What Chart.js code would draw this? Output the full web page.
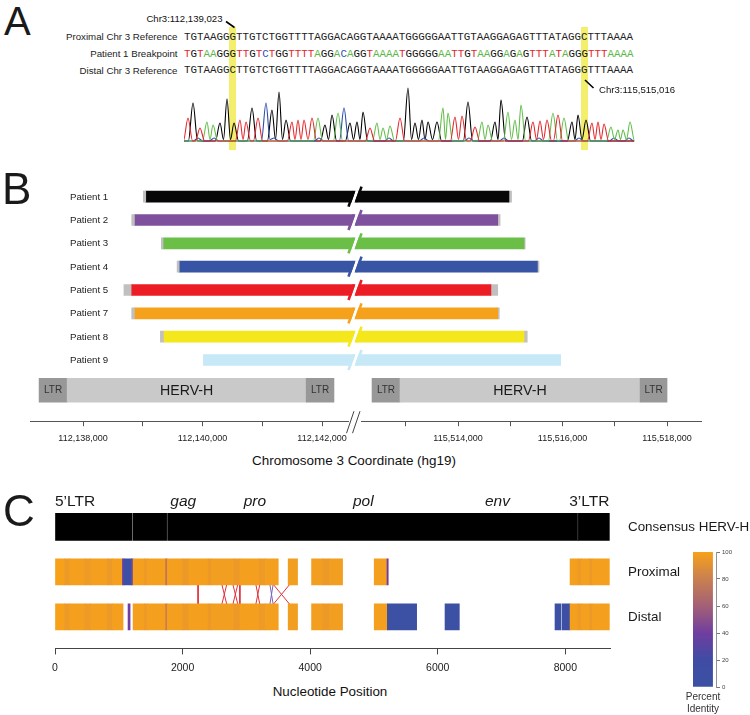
<!DOCTYPE html>
<html>
<head>
<meta charset="utf-8">
<title>HERV-H mediated rearrangement</title>
<script src="https://cdn.jsdelivr.net/npm/chart.js@4.4.1/dist/chart.umd.min.js"></script>
<style>
html,body{margin:0;padding:0;background:#fff;}
#page{position:relative;width:750px;height:715px;overflow:hidden;background:#fff;font-family:'Liberation Sans',Arial,Helvetica,sans-serif;color:#1a1a1a;}
.t{position:absolute;white-space:nowrap;}
#page canvas{position:absolute;}
</style>
</head>
<body>
<div id="page"></div>
<script>
/* ================= DATA ================= */
/* ---- Panel A: breakpoint sequences ---- */
const seqLabels = ['Proximal Chr 3 Reference', 'Patient 1 Breakpoint', 'Distal Chr 3 Reference'];
const seqRows = [
  'TGTAAGGGTTGTCTGGTTTTAGGACAGGTAAAATGGGGGAATTGTAAGGAGAGTTTATAGGCTTTAAAA',
  'TGTAAGGGTTGTCTGGTTTTAGGACAGGTAAAATGGGGGAATTGTAAGGAGAGTTTATAGGGTTTAAAA',
  'TGTAAGGCTTGTCTGGTTTTAGGACAGGTAAAATGGGGGAATTGTAAGGAGAGTTTATAGGGTTTAAAA'
];
const breakpointIndex = [7, 61];
const breakpointLabels = ['Chr3:112,139,023', 'Chr3:115,515,016'];

/* chromatogram peaks: trace position (scan units) and signal height */
const traceTPos = [4,16,56,62,74,108,114,120,128,186,216,271,278,291,349,356,363,374,408,414,420];
const traceTHt  = [23,13,21,19,23,19,21,21,23,13,23,24,25,14,19,20,21,26,18,19,17];
const traceAPos = [23,29,134,154,193,199,206,259,264,298,304,324,331,337,369,380,427,434,439,446];
const traceAHt  = [19,16,23,28,18,13,15,33,28,19,16,29,21,36,28,23,14,11,11,19];
const traceGPos = [9,36,43,50,68,88,95,102,141,148,166,173,179,224,231,238,244,253,284,311,317,343,388,394,402];
const traceGHt  = [38,18,42,18,33,31,49,21,16,26,18,19,29,53,18,21,19,19,39,19,41,24,19,26,21];
const traceCPos = [14,30,82,90,135,160,205,240,285,320,355,395,430,445];
const traceCHt  = [3,3,38,3,3,33,3,3,3,3,3,3,3,3];

/* ---- Panel B: breakpoint intervals (hg19 chr3) ---- */
const patients = ['Patient 1','Patient 2','Patient 3','Patient 4','Patient 5','Patient 7','Patient 8','Patient 9'];
const proximalBoundStart = [112139010,112138815,112139310,112139575,112138685,112138815,112139295,112140015];
const proximalBreak      = [112139050,112138860,112139340,112139610,112138805,112138860,112139345,112140015];
const distalBreak        = [115514975,115514760,115515265,115515520,115514630,115514760,115515265,115515965];
const distalBoundEnd     = [115515025,115514805,115515285,115515550,115514760,115514790,115515325,115515965];
const hervParts    = ['LTR','HERV-H','LTR'];
const hervProximal = [112137265,112137735,112141735,112142200];
const hervDistal   = [115512355,115512890,115517485,115518000];
const leftAxisRange  = [112137113, 112142552];
const rightAxisRange = [115512029, 115518650];
const leftTicks  = [112138000,112139000,112140000,112141000,112142000];
const leftTickLabels  = ['112,138,000','','112,140,000','','112,142,000'];
const rightTicks = [115513000,115514000,115515000,115516000,115517000,115518000];
const rightTickLabels = ['','115,514,000','','115,516,000','','115,518,000'];

/* ---- Panel C: percent identity to consensus HERV-H ---- */
const rowLabels = ['Consensus HERV-H','Proximal','Distal'];
const geneLabels = ['5\u2019LTR','gag','pro','pol','env','3\u2019LTR'];
const genePositions = [0, 2010, 3133, 4833, 6936, 8690];
const consStart = [0, 1222, 1765, 8190, 8206];
const consEnd   = [1207, 1750, 8190, 8206, 8690];
const proxStart = [0,150,230,470,560,820,900,1057,1085,1200,1224,1400,1450,1735,1760,2000,2100,2400,2450,2800,2900,3200,3300,3655,4022,4200,4300,5004,5204,8074,8200,8250,8380,8420];
const proxEnd   = [150,230,470,560,820,900,1057,1085,1200,1224,1400,1450,1735,1760,2000,2100,2400,2450,2800,2900,3200,3300,3500,3802,4200,4300,4508,5204,5224,8200,8250,8380,8420,8690];
const proxIdentity = [100,96,99,96,99,95,99,35,8,35,99,96,99,72,99,95,99,95,98,95,99,96,99,98,98,95,98,99,40,99,96,99,95,99];
const distStart = [0,150,230,470,560,820,900,1145,1224,1400,1450,1735,1760,2000,2100,2400,2450,2800,2900,3200,3300,3655,4022,4200,4300,5004,5210,6114,7838,7950,8074,8200,8250,8380,8420];
const distEnd   = [150,230,470,560,820,900,1067,1177,1400,1450,1735,1760,2000,2100,2400,2450,2800,2900,3200,3300,3500,3802,4200,4300,4508,5210,5669,6338,7932,8074,8200,8250,8380,8420,8690];
const distIdentity = [100,96,99,96,99,95,99,40,99,96,99,78,99,95,99,95,98,95,99,96,99,98,98,95,98,99,5,5,5,8,99,96,99,95,99];
const linkProximal = [2243,2615,2693,2788,2866,2898,3148,3211,3368,3420,3420,3681];
const linkDistal   = [2243,2693,2615,2866,2788,2898,3211,3148,3420,3368,3681,3420];
const nucTicks = [0,2000,4000,6000,8000];
const nucTickLabels = ['0','2000','4000','6000','8000'];
const identityTicks = [0,20,40,60,80,100];

/* ================= STYLES ================= */
const FONT = "'Liberation Sans', Arial, Helvetica, sans-serif";
const MONO = "'Liberation Mono', 'Courier New', monospace";
const baseColors = {A:'#5cb848', C:'#2f4fb5', G:'#111111', T:'#e3262b'};
const patientColors = ['#070707','#7e509e','#6bbf47','#3854a4','#ec1d25','#f6a11c','#f4e81c','#c6e8f7'];
const boundColor = '#c0c0c0';
const hervColors = ['#989898','#c9c9c9','#989898'];
const consColors = ['#000000','#000000','#000000','#2c2c2c','#000000'];
const linkColors = ['#e0303a','#e0303a','#e0303a','#e0303a','#e0303a','#e0303a','#e0303a','#e0303a','#7a63b8','#7a63b8','#e0303a','#e0303a'];
const stopColors = [[59,81,164],[63,76,163],[112,62,160],[163,96,118],[201,128,80],[247,161,27]];

Chart.defaults.font.family = FONT;
Chart.defaults.color = '#222';

/* ================= HELPERS ================= */
const page = document.getElementById('page');
function addText(txt, x, cy, size, opts = {}) {
  const d = document.createElement('div');
  d.className = 't';
  d.textContent = txt;
  d.style.fontSize = size + 'px';
  d.style.lineHeight = size + 'px';
  d.style.height = size + 'px';
  d.style.top = (cy - size / 2) + 'px';
  const align = opts.align || 'left';
  if (align === 'left') d.style.left = x + 'px';
  else if (align === 'right') d.style.right = (750 - x) + 'px';
  else { d.style.left = x + 'px'; d.style.transform = 'translateX(-50%)'; }
  if (opts.italic) d.style.fontStyle = 'italic';
  if (opts.color) d.style.color = opts.color;
  if (opts.font) d.style.fontFamily = opts.font;
  d.style.zIndex = opts.z || 5;
  page.appendChild(d);
  return d;
}
function addCanvas(left, top, w, h, z) {
  const c = document.createElement('canvas');
  c.width = w; c.height = h;
  c.style.left = left + 'px'; c.style.top = top + 'px';
  c.style.width = w + 'px'; c.style.height = h + 'px';
  c.style.zIndex = z || 1;
  page.appendChild(c);
  return c;
}
function baseOpts() {
  return {responsive:false, animation:false, devicePixelRatio:1, events:[],
    plugins:{legend:{display:false}, tooltip:{enabled:false}}};
}
function identityColor(v) {
  const idx = Math.min(identityTicks.length - 2, Math.floor(v / 20));
  const f = (v - identityTicks[idx]) / 20;
  const a = stopColors[idx], b = stopColors[idx + 1];
  return 'rgb(' + a.map((c, k) => Math.round(c + (b[k] - c) * f)).join(',') + ')';
}
/* peak list -> trace: each peak rises from the baseline and falls back to it;
   neighbouring peaks of the same base share one shallow valley */
function tracePoints(pos, ht) {
  const HW = 4.6;
  const pts = [{x:0, y:0}];
  for (let i = 0; i < pos.length; i++) {
    const p = pos[i];
    const prev = i > 0 ? pos[i-1] : -Infinity;
    if (p - prev >= 2 * HW) pts.push({x:p - HW, y:0});
    else pts.push({x:(p + prev) / 2, y:1.5});
    pts.push({x:p, y:ht[i]});
    const next = i < pos.length - 1 ? pos[i+1] : Infinity;
    if (next - p >= 2 * HW) pts.push({x:p + HW, y:0});
  }
  pts.push({x:450, y:0});
  return pts;
}

/* ================= PANEL A ================= */
addText('A', 4, 21, 40);
const SEQ_LEFT = 184, SEQ_SIZE = 10.85;
const mctx = document.createElement('canvas').getContext('2d');
mctx.font = SEQ_SIZE + 'px ' + MONO;
const charW = mctx.measureText('A').width;
const rowCY = [37.3, 54, 70.7];

breakpointIndex.forEach(k => {
  const h = document.createElement('div');
  h.style.cssText = 'position:absolute;background:#f3ee6b;z-index:0;';
  h.style.left = (SEQ_LEFT + k * charW - 0.4) + 'px';
  h.style.width = (charW + 0.8) + 'px';
  h.style.top = '27px'; h.style.height = '123px';
  page.appendChild(h);
});
seqLabels.forEach((lab, r) => {
  addText(lab, 177.5, rowCY[r], 9.7, {align:'right', color:'#222'});
  const d = addText('', SEQ_LEFT, rowCY[r], SEQ_SIZE, {font:MONO, color:'#222'});
  if (r === 1) {
    for (const ch of seqRows[r]) {
      const s = document.createElement('span');
      s.textContent = ch; s.style.color = baseColors[ch];
      d.appendChild(s);
    }
  } else d.textContent = seqRows[r];
});
addText(breakpointLabels[0], 222.5, 18.3, 9.6, {align:'right', color:'#111'});
addText(breakpointLabels[1], 599, 90, 9.6, {color:'#111'});
const svgNS = 'http://www.w3.org/2000/svg';
const svg = document.createElementNS(svgNS, 'svg');
svg.setAttribute('width', 750); svg.setAttribute('height', 160);
svg.style.cssText = 'position:absolute;left:0;top:0;z-index:6;';
[[226,21.5,234.5,27.5],[585,80,593.5,88]].forEach(l => {
  const ln = document.createElementNS(svgNS, 'line');
  ln.setAttribute('x1', l[0]); ln.setAttribute('y1', l[1]);
  ln.setAttribute('x2', l[2]); ln.setAttribute('y2', l[3]);
  ln.setAttribute('stroke', '#000'); ln.setAttribute('stroke-width', 1.6);
  svg.appendChild(ln);
});
page.appendChild(svg);

const chromCanvas = addCanvas(184, 80, 452, 63, 3);
new Chart(chromCanvas, {
  type:'line',
  data:{datasets:[
    {label:'T', data:tracePoints(traceTPos, traceTHt), borderColor:baseColors.T},
    {label:'A', data:tracePoints(traceAPos, traceAHt), borderColor:'#62bd4a'},
    {label:'C', data:tracePoints(traceCPos, traceCHt), borderColor:'#2c4da8'},
    {label:'G', data:tracePoints(traceGPos, traceGHt), borderColor:'#000'}
  ]},
  options:Object.assign(baseOpts(), {
    layout:{padding:0},
    datasets:{line:{clip:false}},
    elements:{point:{radius:0}, line:{borderWidth:1.1, cubicInterpolationMode:'monotone', fill:false}},
    scales:{x:{type:'linear', min:0, max:452, display:false}, y:{type:'linear', min:-2, max:61, display:false}}
  })
});

/* ================= PANEL B ================= */
addText('B', 2, 189, 44);
const HERV_ROW = 8.3;
const B_TOP = 180, B_H = 271;
function bScales(range, ticks, labels) {
  return {
    x:{type:'linear', min:range[0], max:range[1], offset:false,
       afterBuildTicks:s => { s.ticks = ticks.map(v => ({value:v})); },
       grid:{drawOnChartArea:false, drawTicks:true, tickLength:5, color:'#555', offset:false},
       border:{display:true, color:'#555', width:1},
       ticks:{font:{size:9}, color:'#222', padding:7, autoSkip:false, maxRotation:0,
              callback:v => labels[ticks.indexOf(v)] ?? ''}},
    y:{type:'linear', min:-0.5, max:9.625, reverse:true, display:false, offset:false}
  };
}
const barDefaults = {bar:{grouped:false, borderWidth:0}};

const leftCanvas = addCanvas(0, B_TOP, 360, B_H, 1);
const leftChart = new Chart(leftCanvas, {
  type:'bar',
  data:{datasets:[
    {data:patients.map((p,i) => proximalBreak[i] > proximalBoundStart[i] ? {x:[proximalBoundStart[i], proximalBreak[i]], y:i} : null).filter(Boolean),
     backgroundColor:boundColor, barThickness:11},
    {data:patients.map((p,i) => ({x:[proximalBreak[i], leftAxisRange[1]], y:i})),
     backgroundColor:patientColors, barThickness:11},
    {data:hervParts.map((p,k) => ({x:[hervProximal[k], hervProximal[k+1]], y:HERV_ROW})),
     backgroundColor:hervColors, barThickness:24}
  ]},
  options:Object.assign(baseOpts(), {
    indexAxis:'y', datasets:barDefaults,
    layout:{padding:{left:30, right:5, top:5, bottom:0}},
    scales:bScales(leftAxisRange, leftTicks, leftTickLabels)
  })
});

const breakPlugin = {
  id:'axisBreak',
  afterDraw(chart) {
    const ctx = chart.ctx, x0 = chart.chartArea.left, ys = chart.scales.y, yb = chart.chartArea.bottom;
    const k = 0.35;
    ctx.save();
    ctx.lineCap = 'butt';
    patients.forEach((p, i) => {
      const cy = ys.getPixelForValue(i);
      ctx.strokeStyle = '#fff'; ctx.lineWidth = 3;
      ctx.beginPath(); ctx.moveTo(x0 - k*6.5, cy + 6.5); ctx.lineTo(x0 + k*6.5, cy - 6.5); ctx.stroke();
      ctx.strokeStyle = patientColors[i]; ctx.lineWidth = 2.6;
      ctx.beginPath(); ctx.moveTo(x0 - 3 - k*10, cy + 10); ctx.lineTo(x0 - 3 + k*5.5, cy - 5.5); ctx.stroke();
      ctx.beginPath(); ctx.moveTo(x0 + 3 - k*5.5, cy + 5.5); ctx.lineTo(x0 + 3 + k*10, cy - 10); ctx.stroke();
    });
    ctx.fillStyle = '#fff';
    ctx.fillRect(x0 - 6, yb - 2, 12, 4);
    ctx.strokeStyle = '#444'; ctx.lineWidth = 1;
    ctx.beginPath();
    ctx.moveTo(x0 - 8.5, yb + 12); ctx.lineTo(x0 - 1, yb - 10);
    ctx.moveTo(x0 - 2.5, yb + 12); ctx.lineTo(x0 + 5, yb - 10);
    ctx.stroke();
    ctx.restore();
  }
};
const rightCanvas = addCanvas(325, B_TOP, 425, B_H, 2);
const rightChart = new Chart(rightCanvas, {
  type:'bar',
  data:{datasets:[
    {data:patients.map((p,i) => ({x:[rightAxisRange[0], distalBreak[i]], y:i})),
     backgroundColor:patientColors, barThickness:11},
    {data:patients.map((p,i) => distalBoundEnd[i] > distalBreak[i] ? {x:[distalBreak[i], distalBoundEnd[i]], y:i} : null).filter(Boolean),
     backgroundColor:boundColor, barThickness:11},
    {data:hervParts.map((p,k) => ({x:[hervDistal[k], hervDistal[k+1]], y:HERV_ROW})),
     backgroundColor:hervColors, barThickness:24}
  ]},
  options:Object.assign(baseOpts(), {
    indexAxis:'y', datasets:barDefaults,
    layout:{padding:{left:30, right:49, top:5, bottom:0}},
    scales:bScales(rightAxisRange, rightTicks, rightTickLabels)
  }),
  plugins:[breakPlugin]
});

patients.forEach((p, i) => addText(p, 70, B_TOP + leftChart.scales.y.getPixelForValue(i), 9.7, {color:'#222'}));
[[leftChart, hervProximal, 0], [rightChart, hervDistal, 325]].forEach(([ch, bounds, off]) => {
  const cy = B_TOP + ch.scales.y.getPixelForValue(HERV_ROW);
  hervParts.forEach((p, k) => {
    const cx = off + ch.scales.x.getPixelForValue((bounds[k] + bounds[k+1]) / 2);
    if (p === 'LTR') addText(p, cx, cy, 10, {align:'center', color:'#333'});
    else addText(p, cx, cy, 14.2, {align:'center', color:'#1a1a1a'});
  });
});
addText('Chromosome 3 Coordinate (hg19)', 354, 461, 13.45, {align:'center', color:'#111'});

/* ================= PANEL C ================= */
addText('C', 3, 511, 44);
const ROW_HALF = 0.276;
const cCanvas = addCanvas(0, 495, 620, 186, 1);
const linkDatasets = linkProximal.map((p, i) => ({
  type:'line', data:[{x:p, y:1 + ROW_HALF}, {x:linkDistal[i], y:2 - ROW_HALF}],
  borderColor:linkColors[i], borderWidth:1, pointRadius:0, tension:0, fill:false
}));
const cChart = new Chart(cCanvas, {
  type:'bar',
  data:{datasets:[
    {type:'bar', indexAxis:'y', grouped:false, borderWidth:0, barThickness:27,
     data:consStart.map((s,i) => ({x:[s, consEnd[i]], y:0})), backgroundColor:consColors},
    {type:'bar', indexAxis:'y', grouped:false, borderWidth:0, barThickness:26,
     data:proxStart.map((s,i) => ({x:[s, proxEnd[i]], y:1})), backgroundColor:proxIdentity.map(identityColor)},
    {type:'bar', indexAxis:'y', grouped:false, borderWidth:0, barThickness:26,
     data:distStart.map((s,i) => ({x:[s, distEnd[i]], y:2})), backgroundColor:distIdentity.map(identityColor)},
    ...linkDatasets
  ]},
  options:Object.assign(baseOpts(), {
    layout:{padding:{left:55, right:10, top:4.8, bottom:0}},
    scales:{
      x:{type:'linear', min:0, max:8700, offset:false,
         afterBuildTicks:s => { s.ticks = nucTicks.map(v => ({value:v})); },
         grid:{drawOnChartArea:false, drawTicks:true, tickLength:6, color:'#444', offset:false},
         border:{display:true, color:'#444', width:1},
         ticks:{font:{size:10.5}, color:'#222', padding:7, autoSkip:false, maxRotation:0,
                callback:v => nucTickLabels[nucTicks.indexOf(v)] ?? ''}},
      y:{type:'linear', min:-0.6, max:2.7, reverse:true, display:false, offset:false}
    }
  })
});
const cys = cChart.scales.y, cxs = cChart.scales.x;
geneLabels.forEach((g, i) => {
  const x = cxs.getPixelForValue(genePositions[i]);
  const cy = 495 + cys.getPixelForValue(0) - 26;
  const italic = !g.includes('LTR');
  const align = i === 0 ? 'left' : (i === geneLabels.length - 1 ? 'right' : 'center');
  addText(g, x, cy, 15.5, {align, italic, color:'#1a1a1a'});
});
rowLabels.forEach((r, i) => addText(r, 628, 495 + cys.getPixelForValue(i), 13.4, {color:'#1a1a1a'}));
addText('Nucleotide Position', 330, 692, 13.4, {align:'center', color:'#111'});

/* colour bar */
const cbCanvas = addCanvas(690, 545, 46, 148, 1);
new Chart(cbCanvas, {
  type:'bar',
  data:{datasets:[{
    data:[{x:0.5, y:[identityTicks[0], identityTicks[identityTicks.length-1]]}],
    barThickness:20, grouped:false, borderWidth:0,
    backgroundColor:(ctx) => {
      const ch = ctx.chart;
      if (!ch.chartArea) return identityColor(100);
      const ys = ch.scales.y;
      const g = ch.ctx.createLinearGradient(0, ys.getPixelForValue(0), 0, ys.getPixelForValue(100));
      identityTicks.forEach((t, k) => g.addColorStop(t / 100, 'rgb(' + stopColors[k].join(',') + ')'));
      return g;
    }
  }]},
  options:Object.assign(baseOpts(), {
    layout:{padding:{left:3, right:2, top:7, bottom:6}},
    scales:{
      x:{type:'linear', min:0, max:1.25, display:false, offset:false, grid:{offset:false}},
      y:{type:'linear', position:'right', min:0, max:100, offset:false,
         afterBuildTicks:s => { s.ticks = identityTicks.map(v => ({value:v})); },
         grid:{drawOnChartArea:false, drawTicks:true, tickLength:3, color:'#777'},
         border:{display:true, color:'#777', width:0.8},
         ticks:{font:{size:6}, color:'#444', padding:2, autoSkip:false}}
    }
  })
});
addText('Percent', 703, 697, 10, {align:'center', color:'#333'});
addText('Identity', 703, 709, 10, {align:'center', color:'#333'});
</script>
</body>
</html>
